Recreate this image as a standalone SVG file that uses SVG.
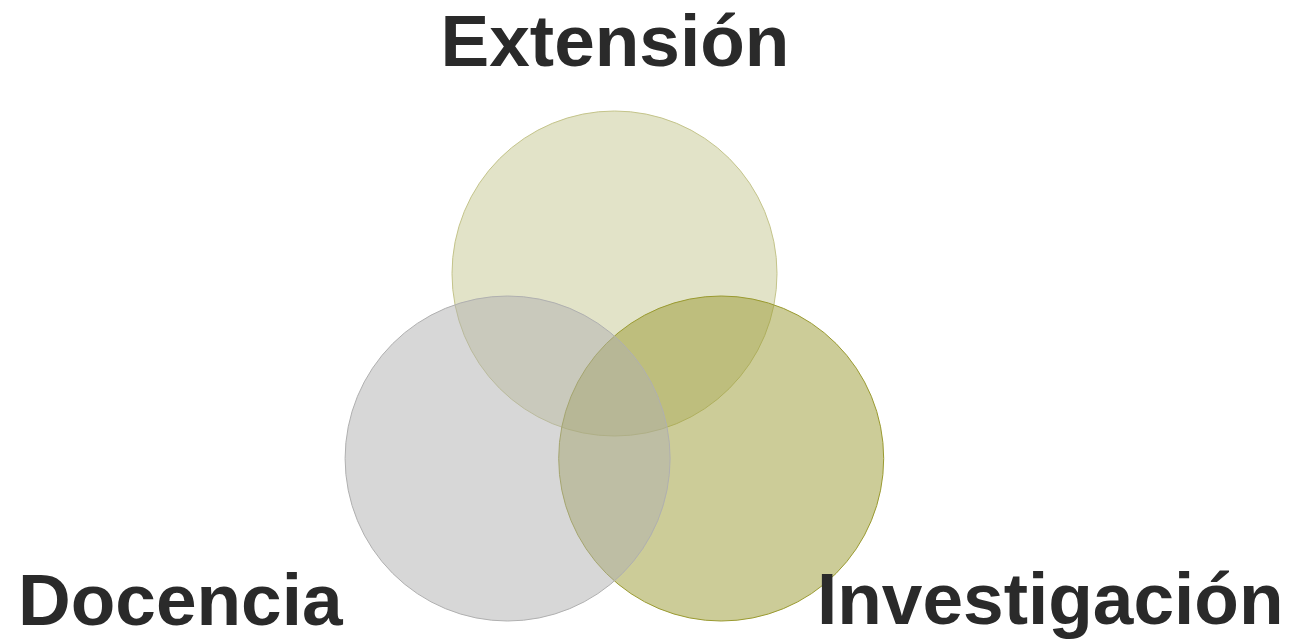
<svg xmlns="http://www.w3.org/2000/svg" width="1301" height="641" viewBox="0 0 1301 641">
<style>
.lbl{font-family:"Liberation Sans",Arial,sans-serif;font-weight:bold;font-size:73px;fill:#2a2a2a}
.c{stroke-width:1}
</style>
<rect width="1301" height="641" fill="#ffffff"/>
<g id="extension">
<circle class="c" cx="614.5" cy="273.5" r="162.5" fill="rgb(197,199,145)" fill-opacity="0.5" stroke="#c4c48a"/>
<text class="lbl" x="615" y="66" text-anchor="middle">Extensión</text>
</g>
<g id="investigacion">
<circle class="c" cx="721.2" cy="458.5" r="162.5" fill="rgb(153,153,49)" fill-opacity="0.5" stroke="#9a9a30"/>
<text class="lbl" x="817" y="624">Investigación</text>
</g>
<g id="docencia">
<circle class="c" cx="507.6" cy="458.5" r="162.5" fill="rgb(175,175,175)" fill-opacity="0.5" stroke="#b0b0b0"/>
<text class="lbl" x="18" y="625">Docencia</text>
</g>
<g id="connectors"/>
</svg>
